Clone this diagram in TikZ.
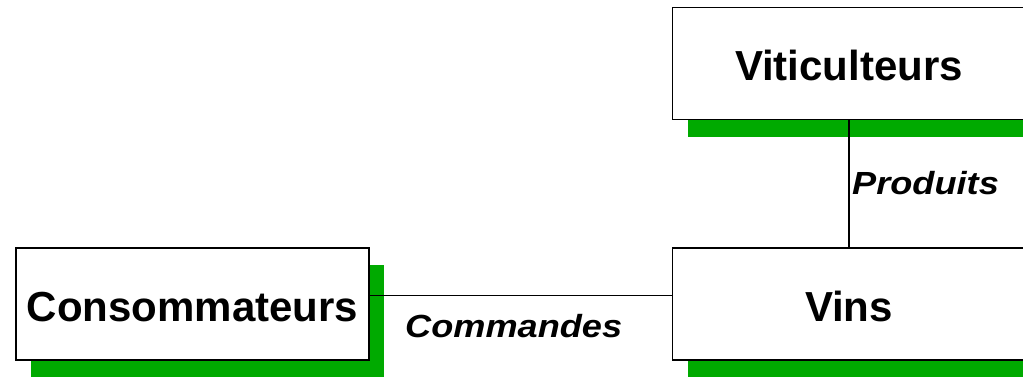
\documentclass[tikz,border=0pt]{standalone}
\usepackage{fontspec}
\setmainfont{Liberation Sans}
\newfontfamily\flowfont{Liberation Sans}[FakeStretch=1.13]
\usetikzlibrary{shadows}
\definecolor{shadowgreen}{RGB}{0,170,0}
\tikzset{
  entity/.style={draw=black, line width=1.7pt, fill=white, minimum width=353pt, minimum height=112pt,
    inner sep=0pt, text height=35pt, font=\bfseries\fontsize{42}{50}\selectfont,
    general shadow={fill=shadowgreen, shadow xshift=15pt, shadow yshift=-17pt}},
  flow/.style={line width=1.4pt, draw=black},
  flowlabel/.style={inner sep=0pt, anchor=base west, font=\flowfont\bfseries\itshape\fontsize{32}{40}\selectfont}
}
\begin{document}
\begin{tikzpicture}[x=1pt,y=1pt]
\useasboundingbox (0,0) rectangle (1023,377);
\clip (0,0) rectangle (1023,377);
\node[entity] (vit) at (849,313.4) {Viticulteurs};
\node[entity] (vins) at (849,73) {Vins};
\node[entity] (cons) at (192.5,73) {Consommateurs};
\draw[flow] (vit.south) -- (vins.north);
\draw[flow] ([yshift=8.3pt]cons.east) -- ([yshift=8.3pt]vins.west);
\node[flowlabel] (lprod) at (852,182) {Produits};
\node[flowlabel] (lcmd) at (405,39.3) {Commandes};
\end{tikzpicture}
\end{document}
